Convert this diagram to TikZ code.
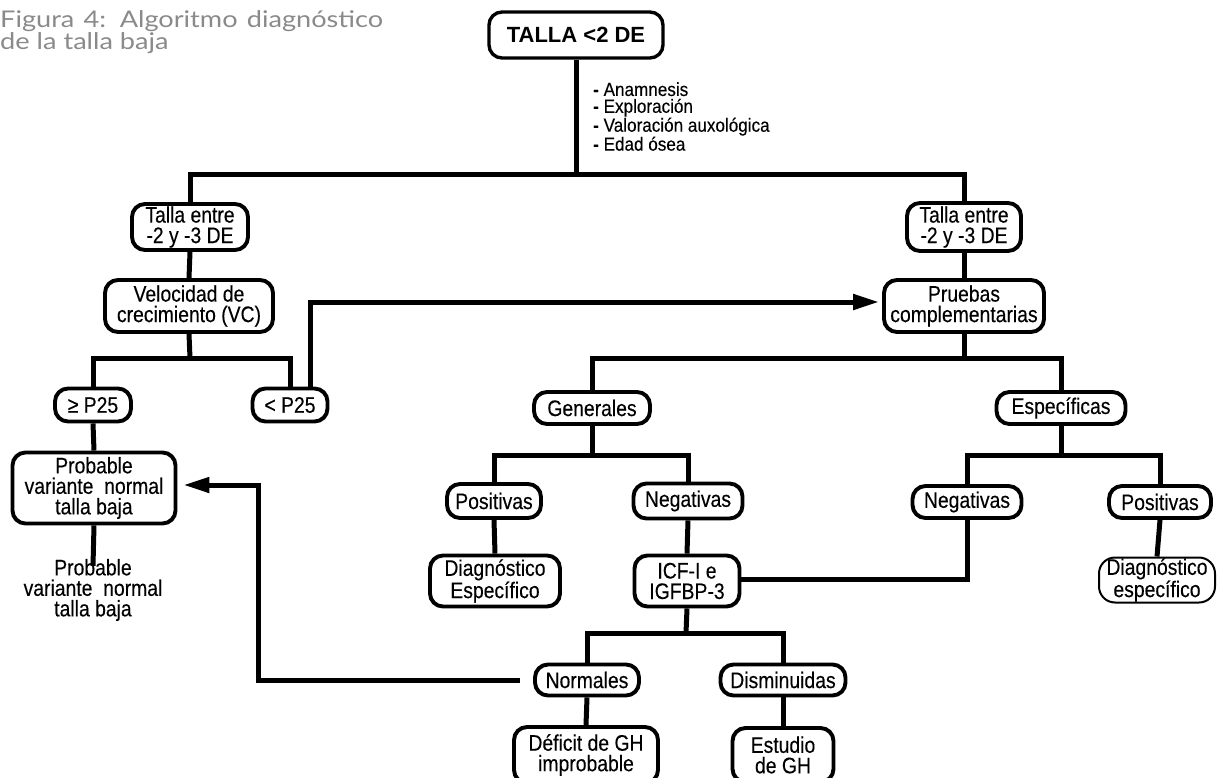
\documentclass[tikz,border=0pt]{standalone}
\usepackage{fontspec}
\setmainfont{Liberation Sans}[FakeStretch=0.86,FakeBold=0.25]
\newfontfamily\listfont{Liberation Sans}[FakeStretch=0.9,FakeBold=0.2]
\newfontfamily\titlefont{Lato}[FakeStretch=1.18]
\newfontfamily\headfont{Liberation Sans}
\usetikzlibrary{arrows.meta}
\definecolor{titlegray}{HTML}{8A8A8A}
\begin{document}
\begin{tikzpicture}[x=1pt,y=-1pt,
  bx/.style={draw, line width=3.9pt, rounded corners=13pt, align=center, inner sep=0pt,
    font=\fontsize{22.5}{20.5}\selectfont},
  sz/.style 2 args={minimum width=#1pt, minimum height=#2pt},
  conn/.style={line width=5pt},
  arr/.style={line width=5pt, -{Triangle[length=26pt,width=15pt]}, shorten >=3pt},
  lbl/.style={inner sep=0pt, align=center, font=\fontsize{22.5}{20.5}\selectfont}
]
\useasboundingbox (0,0) rectangle (1217,778);
\clip (0,0) rectangle (1217,778);

% title
\node[anchor=north west, inner sep=0pt, text=titlegray, align=left,
  font=\titlefont\fontsize{23}{20.5}\selectfont] (title) at (0,10)
  {\makebox[383pt][s]{Figura 4: Algoritmo diagnóstico}\\de la talla baja};

% nodes
\node[bx, sz={174}{46}, line width=3.4pt, font=\headfont\bfseries\fontsize{22}{22}\selectfont] (top) at (576,35) {TALLA <2 DE};
\node[anchor=north west, inner sep=0pt, align=left, font=\listfont\fontsize{19}{16.8}\selectfont] (list) at (593,82)
  {\textbf{-} Anamnesis\\\textbf{-} Exploración\\\textbf{-} Valoración auxológica\\\textbf{-} Edad ósea};

\node[bx, sz={116}{46}] (talL) at (190,227) {Talla entre\\-2 y -3 DE};
\node[bx, sz={168}{52}] (vel) at (189,306) {Velocidad de\\crecimiento (VC)};
\node[bx, sz={76}{33}] (geq) at (93,405) {≥ P25};
\node[bx, sz={75}{33}] (lt) at (290,405) {< P25};
\node[bx, sz={163}{71}] (prob) at (94,488) {Probable\\variante\ \ normal\\talla baja};
\node[lbl] (prob2) at (93,590) {Probable\\variante\ \ normal\\talla baja};

\node[bx, sz={114}{48}] (talR) at (964,227) {Talla entre\\-2 y -3 DE};
\node[bx, sz={160}{52}] (prue) at (964,306) {Pruebas\\complementarias};

\node[bx, sz={116}{32}] (gen) at (592,408) {Generales};
\node[bx, sz={129}{32}] (esp) at (1061,408) {Específicas};

\node[bx, sz={94}{34}] (posL) at (494,501) {Positivas};
\node[bx, sz={109}{35}] (negM) at (688,501) {Negativas};
\node[bx, sz={130}{51}] (diagL) at (495,581) {Diagnóstico\\Específico};
\node[bx, sz={105}{51}] (icf) at (687,581) {ICF-I e\\IGFBP-3};

\node[bx, sz={109}{32}] (negR) at (967,502) {Negativas};
\node[bx, sz={102}{32}] (posR) at (1160,502) {Positivas};
\node[bx, sz={116}{45}, line width=2pt, rounded corners=16pt] (diagR) at (1157,580) {Diagnóstico\\específico};

\node[bx, sz={104}{31}] (norm) at (587,680) {Normales};
\node[bx, sz={125}{31}] (dism) at (783,680) {Disminuidas};
\node[bx, sz={144}{56}] (def) at (586,755) {Déficit de GH\\improbable};
\node[bx, sz={101}{54}] (est) at (783,755) {Estudio\\de GH};

% branch points
\coordinate (b1) at (576,175);
\coordinate (b2) at (190,358);
\coordinate (b3) at (964,358);
\coordinate (b4) at (592,455);
\coordinate (b5) at (1061,455);
\coordinate (b6) at (686,633);
\coordinate (c1) at (258,680);

% connectors
\draw[conn] (top.south) -- (b1);
\draw[conn] (talL.north) |- (b1) -| (talR.north);
\draw[conn] (talL.south) -- (vel.north);
\draw[conn] (vel.south) -- (b2);
\draw[conn] (geq.north) |- (b2) -| (lt.north);
\draw[conn] (geq.south) -- (prob.north);
\draw[conn] (prob.south) -- ([yshift=-7pt]prob2.north);
\draw[arr] ([xshift=20pt]lt.north) |- ([yshift=4pt]prue.west);

\draw[conn] (talR.south) -- (prue.north);
\draw[conn] (prue.south) -- (b3);
\draw[conn] (gen.north) |- (b3) -| (esp.north);

\draw[conn] (gen.south) -- (b4);
\draw[conn] (posL.north) |- (b4) -| (negM.north);
\draw[conn] (posL.south) -- (diagL.north);
\draw[conn] (negM.south) -- (icf.north);
\draw[conn] ([yshift=2pt]icf.east) -| (negR.south);

\draw[conn] (esp.south) -- (b5);
\draw[conn] (negR.north) |- (b5) -| (posR.north);
\draw[conn] (posR.south) -- (diagR.north);

\draw[conn] (icf.south) -- (b6);
\draw[conn] (norm.north) |- (b6) -| (dism.north);
\draw[conn] (norm.south) -- (def.north);
\draw[conn] (dism.south) -- (est.north);
\draw[arr, shorten >=6pt] ([xshift=-13pt]norm.west) -- (c1) |- ([yshift=3pt]prob.east);
\end{tikzpicture}
\end{document}
